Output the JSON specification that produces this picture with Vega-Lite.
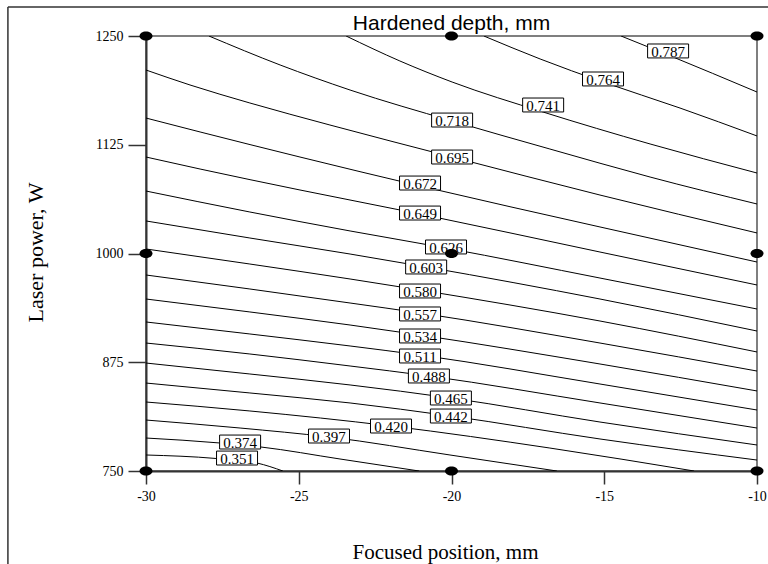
{
  "$schema": "https://vega.github.io/schema/vega-lite/v6.json",
  "width": 611,
  "height": 435,
  "autosize": {"type": "none"},
  "padding": {"left": 146, "top": 36, "right": 11, "bottom": 93},
  "background": "white",
  "title": {"text": "Hardened depth, mm", "font": "Liberation Sans", "fontSize": 21, "fontWeight": "normal", "anchor": "middle", "frame": "group", "baseline": "alphabetic", "offset": 7, "dy": 52, "color": "black"},
  "datasets": {
    "contours": [
      {"level": "0.787", "x": -14.45, "y": 1250}, {"level": "0.787", "x": -12.91, "y": 1228.2}, {"level": "0.787", "x": -10, "y": 1185.6},
      {"level": "0.764", "x": -18.94, "y": 1250}, {"level": "0.764", "x": -17.10, "y": 1223.6}, {"level": "0.764", "x": -15.04, "y": 1197.1}, {"level": "0.764", "x": -12.52, "y": 1167.2}, {"level": "0.764", "x": -10, "y": 1135.1},
      {"level": "0.741", "x": -23.45, "y": 1250}, {"level": "0.741", "x": -21.69, "y": 1221.3}, {"level": "0.741", "x": -19.98, "y": 1197.1}, {"level": "0.741", "x": -17.00, "y": 1162.6}, {"level": "0.741", "x": -13.50, "y": 1125.9}, {"level": "0.741", "x": -10, "y": 1092.5},
      {"level": "0.718", "x": -27.94, "y": 1250}, {"level": "0.718", "x": -25.61, "y": 1216.7}, {"level": "0.718", "x": -23.32, "y": 1187.9}, {"level": "0.718", "x": -19.98, "y": 1152.3}, {"level": "0.718", "x": -16.78, "y": 1120.1}, {"level": "0.718", "x": -13.50, "y": 1087.9}, {"level": "0.718", "x": -10, "y": 1056.9},
      {"level": "0.695", "x": -30, "y": 1210.9}, {"level": "0.695", "x": -28.56, "y": 1193.7}, {"level": "0.695", "x": -26.60, "y": 1173.0}, {"level": "0.695", "x": -23.98, "y": 1147.7}, {"level": "0.695", "x": -19.98, "y": 1110.9}, {"level": "0.695", "x": -15.14, "y": 1067.2}, {"level": "0.695", "x": -10, "y": 1023.6},
      {"level": "0.672", "x": -30, "y": 1155.7}, {"level": "0.672", "x": -28.23, "y": 1139.7}, {"level": "0.672", "x": -24.96, "y": 1110.9}, {"level": "0.672", "x": -21.03, "y": 1077.6}, {"level": "0.672", "x": -15.14, "y": 1030.5}, {"level": "0.672", "x": -10, "y": 990.2},
      {"level": "0.649", "x": -30, "y": 1110.9}, {"level": "0.649", "x": -28.23, "y": 1097.1}, {"level": "0.649", "x": -24.96, "y": 1073.0}, {"level": "0.649", "x": -21.03, "y": 1045.4}, {"level": "0.649", "x": -15.14, "y": 1001.7}, {"level": "0.649", "x": -10, "y": 963.8},
      {"level": "0.626", "x": -30, "y": 1071.8}, {"level": "0.626", "x": -26.60, "y": 1047.7}, {"level": "0.626", "x": -23.32, "y": 1025.9}, {"level": "0.626", "x": -20.18, "y": 1006.3}, {"level": "0.626", "x": -15.14, "y": 971.8}, {"level": "0.626", "x": -10, "y": 936.2},
      {"level": "0.603", "x": -30, "y": 1037.4}, {"level": "0.603", "x": -26.60, "y": 1017.8}, {"level": "0.603", "x": -23.32, "y": 999.4}, {"level": "0.603", "x": -20.83, "y": 984.5}, {"level": "0.603", "x": -15.14, "y": 947.7}, {"level": "0.603", "x": -10, "y": 910.9},
      {"level": "0.580", "x": -30, "y": 1005.2}, {"level": "0.580", "x": -26.60, "y": 987.9}, {"level": "0.580", "x": -23.32, "y": 970.7}, {"level": "0.580", "x": -21.03, "y": 958.0}, {"level": "0.580", "x": -15.14, "y": 922.4}, {"level": "0.580", "x": -10, "y": 886.8},
      {"level": "0.557", "x": -30, "y": 975.3}, {"level": "0.557", "x": -26.60, "y": 959.2}, {"level": "0.557", "x": -23.32, "y": 943.1}, {"level": "0.557", "x": -21.03, "y": 931.6}, {"level": "0.557", "x": -15.14, "y": 897.1}, {"level": "0.557", "x": -10, "y": 864.9},
      {"level": "0.534", "x": -30, "y": 947.7}, {"level": "0.534", "x": -26.60, "y": 932.8}, {"level": "0.534", "x": -23.32, "y": 917.8}, {"level": "0.534", "x": -21.03, "y": 906.3}, {"level": "0.534", "x": -15.14, "y": 873.0}, {"level": "0.534", "x": -10, "y": 842.0},
      {"level": "0.511", "x": -30, "y": 921.3}, {"level": "0.511", "x": -26.60, "y": 907.5}, {"level": "0.511", "x": -23.32, "y": 893.7}, {"level": "0.511", "x": -21.03, "y": 883.3}, {"level": "0.511", "x": -15.14, "y": 850.0}, {"level": "0.511", "x": -10, "y": 820.1},
      {"level": "0.488", "x": -30, "y": 897.1}, {"level": "0.488", "x": -26.60, "y": 884.5}, {"level": "0.488", "x": -23.32, "y": 870.7}, {"level": "0.488", "x": -20.74, "y": 859.2}, {"level": "0.488", "x": -15.14, "y": 828.2}, {"level": "0.488", "x": -10, "y": 799.4},
      {"level": "0.465", "x": -30, "y": 874.1}, {"level": "0.465", "x": -26.60, "y": 861.5}, {"level": "0.465", "x": -23.32, "y": 848.9}, {"level": "0.465", "x": -20.02, "y": 833.9}, {"level": "0.465", "x": -15.14, "y": 806.3}, {"level": "0.465", "x": -10, "y": 779.9},
      {"level": "0.442", "x": -30, "y": 851.1}, {"level": "0.442", "x": -26.60, "y": 839.7}, {"level": "0.442", "x": -23.32, "y": 828.2}, {"level": "0.442", "x": -20.02, "y": 813.2}, {"level": "0.442", "x": -15.14, "y": 786.8}, {"level": "0.442", "x": -10, "y": 762.6},
      {"level": "0.420", "x": -30, "y": 829.3}, {"level": "0.420", "x": -26.60, "y": 819.0}, {"level": "0.420", "x": -21.98, "y": 801.7}, {"level": "0.420", "x": -16.78, "y": 776.4}, {"level": "0.420", "x": -12.06, "y": 750},
      {"level": "0.397", "x": -30, "y": 808.6}, {"level": "0.397", "x": -26.92, "y": 799.4}, {"level": "0.397", "x": -24.01, "y": 789.1}, {"level": "0.397", "x": -20.05, "y": 768.4}, {"level": "0.397", "x": -16.55, "y": 750},
      {"level": "0.374", "x": -30, "y": 787.9}, {"level": "0.374", "x": -27.58, "y": 782.2}, {"level": "0.374", "x": -26.24, "y": 777.6}, {"level": "0.374", "x": -23.65, "y": 763.8}, {"level": "0.374", "x": -21.06, "y": 750},
      {"level": "0.351", "x": -30, "y": 768.4}, {"level": "0.351", "x": -27.71, "y": 764.4}, {"level": "0.351", "x": -26.37, "y": 759.2}, {"level": "0.351", "x": -25.52, "y": 750}
    ],
    "labels": [
      {"label": "0.787", "x": -12.91, "y": 1232.8},
      {"label": "0.764", "x": -15.04, "y": 1200.6},
      {"label": "0.741", "x": -17.00, "y": 1170.7},
      {"label": "0.718", "x": -19.98, "y": 1153.4},
      {"label": "0.695", "x": -19.98, "y": 1110.9},
      {"label": "0.672", "x": -21.03, "y": 1081.0},
      {"label": "0.649", "x": -21.03, "y": 1046.5},
      {"label": "0.626", "x": -20.18, "y": 1007.5},
      {"label": "0.603", "x": -20.83, "y": 984.5},
      {"label": "0.580", "x": -21.03, "y": 956.9},
      {"label": "0.557", "x": -21.03, "y": 930.5},
      {"label": "0.534", "x": -21.03, "y": 905.2},
      {"label": "0.511", "x": -21.03, "y": 882.2},
      {"label": "0.488", "x": -20.74, "y": 859.2},
      {"label": "0.465", "x": -20.02, "y": 833.9},
      {"label": "0.442", "x": -20.02, "y": 813.2},
      {"label": "0.420", "x": -21.98, "y": 801.7},
      {"label": "0.397", "x": -24.01, "y": 790.2},
      {"label": "0.374", "x": -26.92, "y": 783.3},
      {"label": "0.351", "x": -27.02, "y": 764.9}
    ],
    "design": [
      {"x": -30, "y": 750}, {"x": -30, "y": 1000}, {"x": -30, "y": 1250},
      {"x": -20, "y": 750}, {"x": -20, "y": 1000}, {"x": -20, "y": 1250},
      {"x": -10, "y": 750}, {"x": -10, "y": 1000}, {"x": -10, "y": 1250}
    ],
    "frame": [
      {"x": -34.52, "y": 1283.3, "x2": -9, "y2": 1283.3},
      {"x": -34.52, "y": 1283.3, "x2": -34.52, "y2": 600}
    ]
  },
  "encoding": {
    "x": {
      "field": "x", "type": "quantitative",
      "scale": {"domain": [-30, -10], "nice": false, "zero": false},
      "axis": {
        "title": "Focused position, mm", "values": [-30, -25, -20, -15, -10],
        "labelExpr": "'-' + abs(datum.value)", "labelFlush": false, "grid": false,
        "domainColor": "#333", "domainWidth": 2, "tickColor": "#333", "tickWidth": 1.5, "tickSize": 13,
        "labelPadding": 5, "labelFont": "Liberation Serif", "labelFontSize": 14, "labelColor": "black",
        "titleFont": "Liberation Serif", "titleFontSize": 21, "titleFontWeight": "normal", "titleColor": "black",
        "titleX": 299, "titleY": 87, "titleBaseline": "alphabetic", "titleAlign": "center"
      }
    },
    "y": {
      "field": "y", "type": "quantitative",
      "scale": {"domain": [750, 1250], "nice": false, "zero": false},
      "axis": {
        "title": "Laser power, W", "values": [750, 875, 1000, 1125, 1250], "format": "d", "grid": false,
        "domainColor": "#333", "domainWidth": 2, "tickColor": "#333", "tickWidth": 1.5, "tickSize": 18,
        "labelPadding": 5, "labelFont": "Liberation Serif", "labelFontSize": 14, "labelColor": "black",
        "titleFont": "Liberation Serif", "titleFontSize": 22, "titleFontWeight": "normal", "titleColor": "black",
        "titleX": -111, "titleY": 216, "titleAngle": 270, "titleAlign": "center", "titleBaseline": "middle"
      }
    }
  },
  "layer": [
    {
      "data": {"name": "frame"},
      "mark": {"type": "rule", "color": "#333", "strokeWidth": 1.5, "clip": false},
      "encoding": {"x2": {"field": "x2"}, "y2": {"field": "y2"}}
    },
    {
      "data": {"name": "contours"},
      "mark": {"type": "line", "color": "black", "strokeWidth": 1, "interpolate": "monotone", "clip": true},
      "encoding": {"detail": {"field": "level", "type": "nominal"}}
    },
    {
      "data": {"name": "labels"},
      "mark": {"type": "point", "shape": "M-1,-0.34L1,-0.34L1,0.34L-1,0.34Z", "size": 1681, "filled": true, "fill": "white", "stroke": "black", "strokeWidth": 1, "opacity": 1},
      "encoding": {}
    },
    {
      "data": {"name": "labels"},
      "mark": {"type": "text", "font": "Liberation Serif", "fontSize": 15, "color": "black", "align": "center", "baseline": "middle", "dy": 1},
      "encoding": {"text": {"field": "label", "type": "nominal"}}
    },
    {
      "data": {"name": "design"},
      "mark": {"type": "point", "shape": "M-1,0A1,0.7,0,1,1,1,0A1,0.7,0,1,1,-1,0Z", "size": 169, "filled": true, "color": "black", "opacity": 1, "clip": false},
      "encoding": {}
    }
  ],
  "config": {
    "view": {"stroke": "#555", "strokeWidth": 1.5}
  }
}
